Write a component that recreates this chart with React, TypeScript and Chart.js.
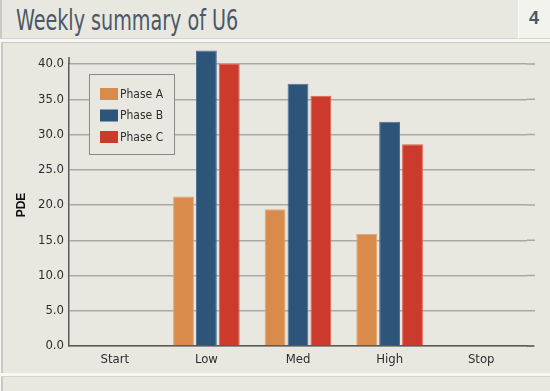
import React, { useEffect, useRef } from "react";
import { Chart, registerables } from "chart.js";

Chart.register(...registerables);

const categories = ["Start", "Low", "Med", "High", "Stop"];
const seriesNames = ["Phase A", "Phase B", "Phase C"];
const phaseA = [null, 21.2, 19.4, 15.9, null];
const phaseB = [null, 41.9, 37.2, 31.8, null];
const phaseC = [null, 40.0, 35.5, 28.6, null];
const seriesColors = ["#d98b4c", "#2d5479", "#cb3a2a"];
const seriesBorders = ["#e3a67a", "#4f7396", "#d96455"];
const yMin = 0;
const yMax = 40;
const yStep = 5;
const titleText = "Weekly summary of U6";
const pageNumber = "4";
const yAxisTitle = "PDE";

const BG = "#e8e7e0";
const FONT = "'DejaVu Sans Condensed', 'Liberation Sans Narrow', Roboto, sans-serif";

const boxLegend = {
  id: "boxLegend",
  beforeDatasetsDraw(chart: any) {
    const { ctx, chartArea, scales } = chart;
    ctx.save();
    ctx.strokeStyle = "#a9a9a3";
    ctx.lineWidth = 1.5;
    scales.y.ticks.forEach((t: any) => {
      const py = scales.y.getPixelForValue(t.value);
      ctx.beginPath();
      ctx.moveTo(chartArea.right, py);
      ctx.lineTo(chartArea.right + 8, py);
      ctx.stroke();
    });
    ctx.strokeStyle = "#5a5a58";
    ctx.beginPath();
    ctx.moveTo(chartArea.right, chartArea.bottom);
    ctx.lineTo(chartArea.right + 7, chartArea.bottom);
    ctx.moveTo(chartArea.left, chartArea.top);
    ctx.lineTo(chartArea.left, chartArea.top - 7);
    ctx.stroke();
    ctx.restore();
  },
  afterDatasetsDraw(chart: any) {
    const { ctx, chartArea } = chart;
    const x = chartArea.left + 20;
    const y = chartArea.top + 10;
    const w = 85;
    const h = 80;
    ctx.save();
    ctx.fillStyle = BG;
    ctx.fillRect(x, y, w, h);
    ctx.strokeStyle = "#8a8a86";
    ctx.lineWidth = 1;
    ctx.strokeRect(x + 0.5, y + 0.5, w, h);
    ctx.font = "12px " + FONT;
    ctx.textBaseline = "middle";
    chart.data.datasets.forEach((ds: any, i: number) => {
      const cy = y + 20 + i * 21.5;
      ctx.fillStyle = ds.backgroundColor;
      ctx.fillRect(x + 11, cy - 6, 18, 12);
      ctx.fillStyle = "#2e2e2e";
      ctx.fillText(ds.label, x + 31, cy + 0.5);
    });
    ctx.restore();
  },
};

export default function App() {
  const ref = useRef<HTMLCanvasElement>(null);
  useEffect(() => {
    if (!ref.current) return;
    const data = [phaseA, phaseB, phaseC];
    const chart = new Chart(ref.current, {
      type: "bar",
      data: {
        labels: categories,
        datasets: seriesNames.map((name, i) => ({
          label: name,
          data: data[i],
          backgroundColor: seriesColors[i],
          borderColor: seriesBorders[i],
          borderWidth: 1,
          categoryPercentage: 0.75,
          barPercentage: 0.91,
          clip: false as any,
        })),
      },
      options: {
        animation: false,
        responsive: true,
        maintainAspectRatio: false,
        layout: { padding: { left: 0, right: 23, top: 22, bottom: 0 } },
        plugins: { legend: { display: false }, tooltip: { enabled: false } },
        scales: {
          x: {
            grid: { display: false, drawTicks: false },
            border: { display: true, color: "#5a5a58", width: 1.5 },
            ticks: { color: "#2e2e2e", font: { family: FONT, size: 13 }, padding: 6 },
            afterFit: (s: any) => { s.height = 27; },
          },
          y: {
            min: yMin,
            max: yMax,
            grid: { color: "#a9a9a3", lineWidth: 1.5, drawTicks: false },
            border: { display: true, color: "#5a5a58", width: 1.5 },
            ticks: {
              stepSize: yStep,
              color: "#2e2e2e",
              font: { family: FONT, size: 13 },
              padding: 5,
              callback: (v: any) => Number(v).toFixed(1),
            },
            title: {
              display: true,
              text: yAxisTitle,
              color: "#111",
              font: { family: "'Liberation Sans', Arial, sans-serif", size: 12, weight: "bold" },
              padding: { top: 14, bottom: 0 },
            },
            afterFit: (s: any) => { s.width = 69; },
          },
        },
      },
      plugins: [boxLegend],
    });
    return () => chart.destroy();
  }, []);

  return (
    <div style={{ position: "fixed", left: 0, top: 0, width: 550, height: 391, background: "#f7f7f3", overflow: "hidden" }}>
      <div style={{ position: "absolute", left: 0, top: 0, width: 518, height: 39, background: BG, borderLeft: "2px solid #c9c9c3", borderBottom: "1px solid #d4d4ce", boxSizing: "border-box" }}>
        <div style={{ position: "absolute", left: 14, top: 4, fontFamily: FONT, fontSize: 28, color: "#4a5867", whiteSpace: "nowrap", transformOrigin: "left top", transform: "scaleX(0.76)" }}>
          {titleText}
        </div>
      </div>
      <div style={{ position: "absolute", left: 519, top: 0, width: 31, height: 39, background: "#f3f3ee", borderBottom: "1px solid #d4d4ce", boxSizing: "border-box" }}>
        <div style={{ position: "absolute", left: 10, top: 8, fontFamily: "'Liberation Sans', Arial, sans-serif", fontWeight: "bold", fontSize: 18, color: "#4a5867" }}>
          {pageNumber}
        </div>
      </div>
      <div style={{ position: "absolute", left: 1, top: 42, width: 549, height: 331, background: BG, borderLeft: "2px solid #c9c9c3", borderTop: "1px solid #c9c9c3", boxSizing: "border-box" }} />
      <div style={{ position: "absolute", left: 1, top: 376, width: 549, height: 15, background: BG, borderLeft: "2px solid #c9c9c3", borderTop: "1px solid #d4d4ce", boxSizing: "border-box" }} />
      <div style={{ position: "absolute", left: 0, top: 42, width: 550, height: 331 }}>
        <canvas ref={ref} />
      </div>
    </div>
  );
}
